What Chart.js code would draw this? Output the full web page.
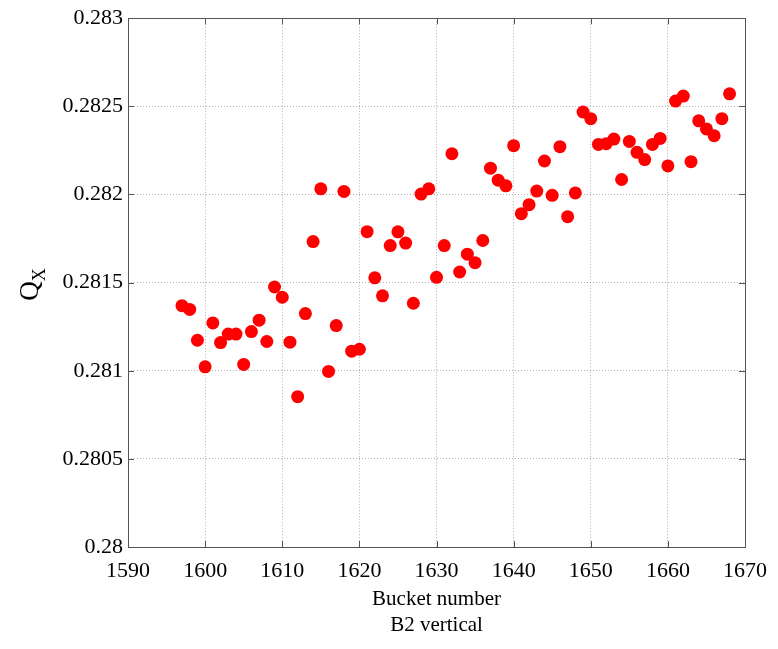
<!DOCTYPE html>
<html>
<head>
<meta charset="utf-8">
<script src="https://cdn.jsdelivr.net/npm/chart.js@4/dist/chart.umd.min.js"></script>
<style>
  html, body { margin: 0; padding: 0; background: #fff; }
  canvas { display: block; }
</style>
</head>
<body>
<canvas id="chartCanvas" width="778" height="649"></canvas>
<script>
// bucket numbers and measured tune Q_X (B2 vertical)
const buckets = [
  1597, 1598, 1599, 1600, 1601, 1602, 1603, 1604, 1605, 1606, 1607, 1608,
  1609, 1610, 1611, 1612, 1613, 1614, 1615, 1616, 1617, 1618, 1619, 1620,
  1621, 1622, 1623, 1624, 1625, 1626, 1627, 1628, 1629, 1630, 1631, 1632,
  1633, 1634, 1635, 1636, 1637, 1638, 1639, 1640, 1641, 1642, 1643, 1644,
  1645, 1646, 1647, 1648, 1649, 1650, 1651, 1652, 1653, 1654, 1655, 1656,
  1657, 1658, 1659, 1660, 1661, 1662, 1663, 1664, 1665, 1666, 1667, 1668
];
const qx = [
  0.281369, 0.281348, 0.281173, 0.281022, 0.281271, 0.281160, 0.281208, 0.281208, 0.281036, 0.281222, 0.281287, 0.281166,
  0.281475, 0.281417, 0.281162, 0.280853, 0.281324, 0.281733, 0.282032, 0.280996, 0.281256, 0.282017, 0.281111, 0.281122,
  0.281789, 0.281527, 0.281425, 0.281710, 0.281788, 0.281724, 0.281383, 0.282002, 0.282032, 0.281530, 0.281710, 0.282231,
  0.281560, 0.281661, 0.281613, 0.281739, 0.282149, 0.282081, 0.282049, 0.282277, 0.281891, 0.281942, 0.282019, 0.282190,
  0.281995, 0.282271, 0.281874, 0.282009, 0.282468, 0.282430, 0.282284, 0.282288, 0.282314, 0.282085, 0.282301, 0.282239,
  0.282198, 0.282284, 0.282318, 0.282162, 0.282530, 0.282558, 0.282186, 0.282418, 0.282372, 0.282333, 0.282430, 0.282571
];
const xTicks = [1590, 1600, 1610, 1620, 1630, 1640, 1650, 1660, 1670];
const yTicks = [0.28, 0.2805, 0.281, 0.2815, 0.282, 0.2825, 0.283];
const yTickLabels = ['0.28', '0.2805', '0.281', '0.2815', '0.282', '0.2825', '0.283'];
const xTitle = ['Bucket number', 'B2 vertical'];

const serif = "'Liberation Serif', 'Times New Roman', serif";

// box round the plot, inward tick marks and the Q_X label
const framePlugin = {
  id: 'frame',
  afterDraw(chart) {
    const ctx = chart.ctx;
    const a = chart.chartArea;
    const xs = chart.scales.x, ys = chart.scales.y;
    ctx.save();
    ctx.strokeStyle = '#555';
    ctx.lineWidth = 1;
    ctx.setLineDash([]);
    ctx.strokeRect(Math.round(a.left) + 0.5, Math.round(a.top) + 0.5,
      Math.round(a.right - a.left), Math.round(a.bottom - a.top));
    ctx.beginPath();
    xTicks.forEach(v => {
      const px = Math.round(xs.getPixelForValue(v)) + 0.5;
      ctx.moveTo(px, a.bottom); ctx.lineTo(px, a.bottom - 6);
      ctx.moveTo(px, a.top); ctx.lineTo(px, a.top + 6);
    });
    yTicks.forEach(v => {
      const py = Math.round(ys.getPixelForValue(v)) + 0.5;
      ctx.moveTo(a.left, py); ctx.lineTo(a.left + 6, py);
      ctx.moveTo(a.right, py); ctx.lineTo(a.right - 6, py);
    });
    ctx.stroke();

    // y title: Q with subscript X, rotated
    ctx.fillStyle = '#000';
    ctx.translate(38, (a.top + a.bottom) / 2);
    ctx.rotate(-Math.PI / 2);
    ctx.textBaseline = 'alphabetic';
    ctx.font = '27px ' + serif;
    const wq = ctx.measureText('Q').width;
    ctx.font = '18px ' + serif;
    const wx = ctx.measureText('X').width;
    const start = -(wq + wx) / 2 - 2;
    ctx.font = '27px ' + serif;
    ctx.fillText('Q', start, 0);
    ctx.font = '18px ' + serif;
    ctx.fillText('X', start + wq, 7);
    ctx.restore();
  }
};

const ctx = document.getElementById('chartCanvas').getContext('2d');
new Chart(ctx, {
  type: 'scatter',
  data: {
    datasets: [{
      label: 'Q_X',
      data: buckets.map((b, i) => ({ x: b, y: qx[i] })),
      backgroundColor: '#ff0000',
      borderWidth: 0,
      pointRadius: 6.5,
      pointHoverRadius: 6.5
    }]
  },
  options: {
    responsive: false,
    animation: false,
    events: [],
    devicePixelRatio: 1,
    layout: { padding: { top: 15, right: 33, left: 0, bottom: 0 } },
    plugins: {
      legend: { display: false },
      tooltip: { enabled: false }
    },
    scales: {
      x: {
        type: 'linear',
        min: 1590,
        max: 1670,
        afterFit: s => { s.height = 102; },
        afterBuildTicks: s => { s.ticks = xTicks.map(v => ({ value: v })); },
        ticks: {
          color: '#000',
          font: { family: serif, size: 22 },
          padding: 11,
          maxRotation: 0,
          callback: v => String(v)
        },
        grid: { color: 'rgba(0,0,0,0.3)', drawTicks: false, lineWidth: 1 },
        border: { display: false, dash: [1, 2] },
        title: {
          display: true,
          text: xTitle,
          color: '#000',
          font: { family: serif, size: 21, lineHeight: 1.24 },
          padding: { top: 0, bottom: 10 }
        }
      },
      y: {
        type: 'linear',
        min: 0.28,
        max: 0.283,
        afterFit: s => { s.width = 128; },
        afterBuildTicks: s => { s.ticks = yTicks.map(v => ({ value: v })); },
        ticks: {
          color: '#000',
          font: { family: serif, size: 22 },
          padding: 5,
          callback: (v, i) => yTickLabels[i]
        },
        grid: { color: 'rgba(0,0,0,0.3)', drawTicks: false, lineWidth: 1 },
        border: { display: false, dash: [1, 2] }
      }
    }
  },
  plugins: [framePlugin]
});
</script>
</body>
</html>
